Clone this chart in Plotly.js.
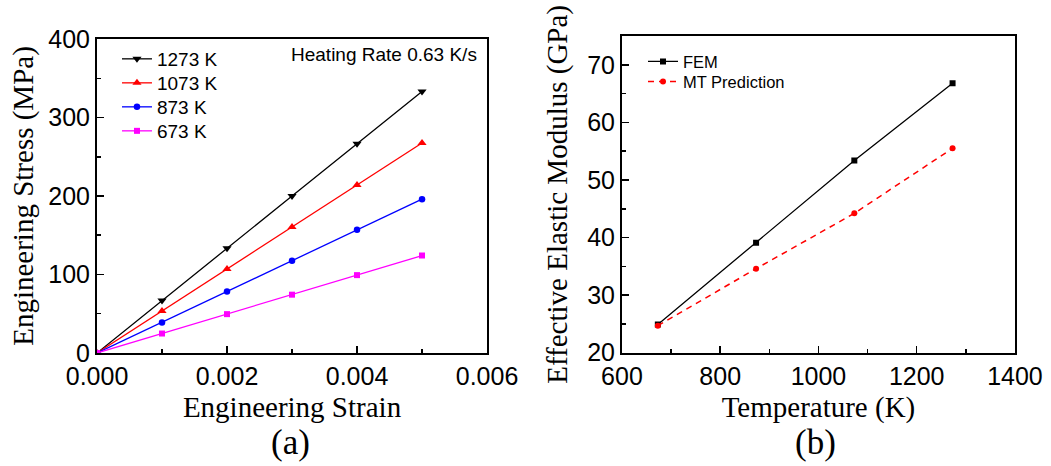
<!DOCTYPE html>
<html>
<head>
<meta charset="utf-8">
<script src="https://cdn.plot.ly/plotly-3.0.1.min.js"></script>
<style>html,body{margin:0;padding:0;background:#fff;}#chart{width:1051px;height:466px;}</style>
</head>
<body>
<div id="chart"></div>
<script>
// Panel (a): engineering stress vs strain
const strain = [0, 0.001, 0.002, 0.003, 0.004, 0.005];
const stress1273 = [0, 67, 133.5, 200, 266.5, 333];
const stress1073 = [0, 53.5, 107, 160.5, 214, 267.5];
const stress873 = [0, 39, 78.3, 117.5, 157, 196];
const stress673 = [0, 24.8, 49.5, 74.3, 99.2, 124.2];
const seriesNames = ['1273 K', '1073 K', '873 K', '673 K'];

// Panel (b): effective elastic modulus vs temperature
const temperature = [673, 873, 1073, 1273];
const modulusFEM = [24.9, 39.1, 53.4, 66.8];
const modulusMT = [24.7, 34.6, 44.2, 55.5];

const serif = 'Liberation Serif, Times New Roman, serif';
const sans = 'Liberation Sans, Arial, sans-serif';

const traces = [
  {x: strain, y: stress1273, name: seriesNames[0], mode: 'lines+markers', xaxis: 'x', yaxis: 'y', legend: 'legend',
   line: {color: '#000000', width: 1.3}, marker: {symbol: 'triangle-down', size: 8, color: '#000000'}},
  {x: strain, y: stress1073, name: seriesNames[1], mode: 'lines+markers', xaxis: 'x', yaxis: 'y', legend: 'legend2',
   line: {color: '#ff0000', width: 1.3}, marker: {symbol: 'triangle-up', size: 8, color: '#ff0000'}},
  {x: strain, y: stress873, name: seriesNames[2], mode: 'lines+markers', xaxis: 'x', yaxis: 'y', legend: 'legend3',
   line: {color: '#0000ff', width: 1.3}, marker: {symbol: 'circle', size: 6.5, color: '#0000ff'}},
  {x: strain, y: stress673, name: seriesNames[3], mode: 'lines+markers', xaxis: 'x', yaxis: 'y', legend: 'legend4',
   line: {color: '#ff00ff', width: 1.3}, marker: {symbol: 'square', size: 6, color: '#ff00ff'}},
  {x: temperature, y: modulusFEM, name: 'FEM', mode: 'lines+markers', xaxis: 'x2', yaxis: 'y2', legend: 'legend5',
   line: {color: '#000000', width: 1.3}, marker: {symbol: 'square', size: 6, color: '#000000'}},
  {x: temperature, y: modulusMT, name: 'MT Prediction', mode: 'lines+markers', xaxis: 'x2', yaxis: 'y2', legend: 'legend6',
   line: {color: '#ff0000', width: 1.5, dash: '6px,5px'}, marker: {symbol: 'circle', size: 6, color: '#ff0000'}}
];

const minorTick = {ticks: 'inside', ticklen: 4, tickwidth: 1.5, tickcolor: '#000'};
const axisCommon = {
  showgrid: false, zeroline: false, showline: true, mirror: true, linecolor: '#000', linewidth: 2,
  ticks: 'inside', tickcolor: '#000', tickwidth: 1.5, ticklen: 7,
  tickfont: {family: sans, size: 25, color: '#000'}
};
const titleFont = {family: serif, size: 29, color: '#000'};

function leg(x, y, size) {
  return {x: x, y: y, xanchor: 'left', yanchor: 'middle', bgcolor: 'rgba(0,0,0,0)', borderwidth: 0,
    font: {family: sans, size: size, color: '#000'}, tracegroupgap: 0, itemwidth: 30};
}

const layout = {
  width: 1051, height: 466,
  margin: {l: 0, r: 0, t: 0, b: 0},
  paper_bgcolor: '#fff', plot_bgcolor: '#fff',
  showlegend: true,
  xaxis: Object.assign({}, axisCommon, {
    domain: [0.0923, 0.4634], range: [0, 0.006], dtick: 0.002, tickformat: '.3f',
    minor: Object.assign({dtick: 0.001}, minorTick),
    title: {text: 'Engineering Strain', font: titleFont, standoff: 8}
  }),
  yaxis: Object.assign({}, axisCommon, {
    domain: [0.2425, 0.9163], range: [0, 400], dtick: 100,
    minor: Object.assign({dtick: 50}, minorTick),
    title: {text: 'Engineering Stress (MPa)', font: titleFont, standoff: 6}
  }),
  xaxis2: Object.assign({}, axisCommon, {
    anchor: 'y2',
    domain: [0.5918, 0.9657], range: [600, 1400], dtick: 200,
    minor: Object.assign({dtick: 100}, minorTick),
    title: {text: 'Temperature (K)', font: titleFont, standoff: 8}
  }),
  yaxis2: Object.assign({}, axisCommon, {
    anchor: 'x2',
    domain: [0.2431, 0.9227], range: [20, 75], dtick: 10,
    minor: Object.assign({dtick: 5}, minorTick),
    title: {text: 'Effective Elastic Modulus (GPa)', font: titleFont, standoff: 11}
  }),
  legend: leg(0.1113, 0.8734, 19),
  legend2: leg(0.1113, 0.8219, 19),
  legend3: leg(0.1113, 0.7704, 19),
  legend4: leg(0.1113, 0.7189, 19),
  legend5: leg(0.6118, 0.8676, 16.5),
  legend6: leg(0.6118, 0.8247, 16.5),
  annotations: [
    {xref: 'paper', yref: 'paper', x: 0.456, y: 0.882, xanchor: 'right', yanchor: 'middle', showarrow: false,
     text: 'Heating Rate 0.63 K/s', font: {family: sans, size: 19, color: '#000'}},
    {xref: 'paper', yref: 'paper', x: 0.276, y: 0.05, xanchor: 'center', yanchor: 'middle', showarrow: false,
     text: '(a)', font: {family: serif, size: 35, color: '#000'}},
    {xref: 'paper', yref: 'paper', x: 0.776, y: 0.05, xanchor: 'center', yanchor: 'middle', showarrow: false,
     text: '(b)', font: {family: serif, size: 35, color: '#000'}}
  ]
};

Plotly.newPlot('chart', traces, layout, {displayModeBar: false, staticPlot: true});
</script>
</body>
</html>
